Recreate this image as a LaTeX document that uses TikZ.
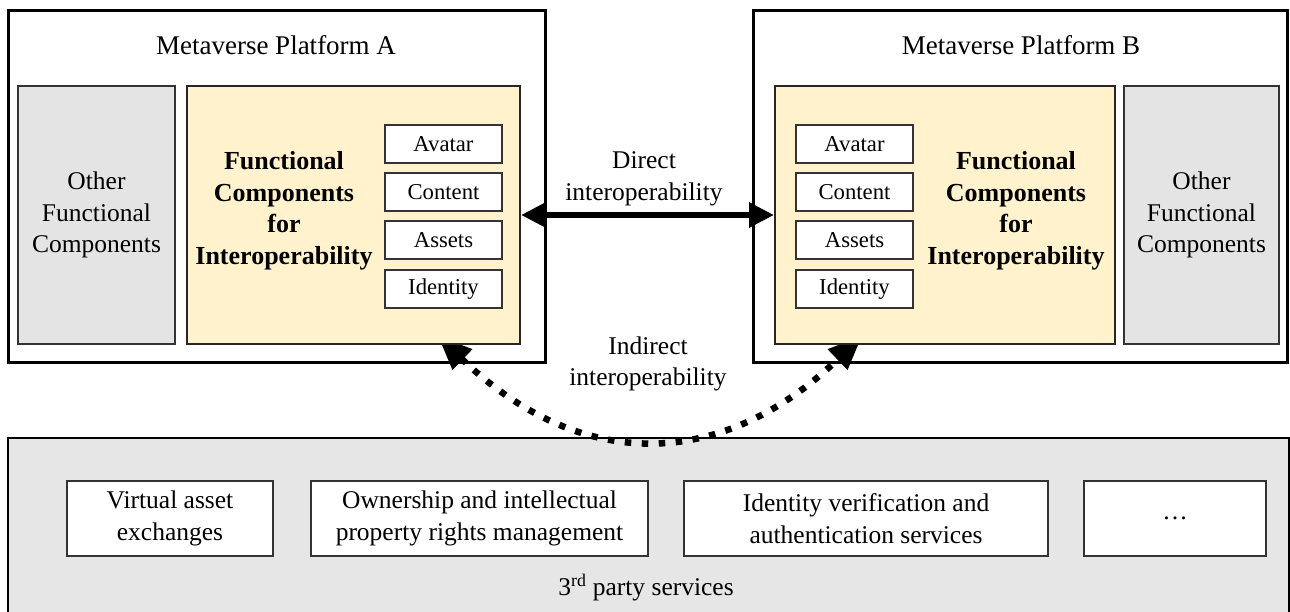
\documentclass[tikz,border=0pt]{standalone}
\usepackage{fontspec}
\setmainfont{Liberation Serif}
\usetikzlibrary{arrows.meta}
\definecolor{ylw}{HTML}{FFF2CC}
\definecolor{gbox}{HTML}{E4E4E4}
\definecolor{gbot}{HTML}{E6E6E6}
\definecolor{edge}{HTML}{333333}
\begin{document}
\begin{tikzpicture}[x=1pt,y=-1pt,
  txt/.style={font=\fontsize{25.5}{31.5}\selectfont, align=center, inner sep=0pt},
  ttl/.style={font=\fontsize{27}{32}\selectfont, inner sep=0pt},
  bld/.style={font=\fontsize{26}{31.5}\selectfont\bfseries, align=center, inner sep=0pt},
  sml/.style={font=\fontsize{22.7}{27}\selectfont, inner sep=0pt},
  platform/.style={draw=black, line width=3pt, fill=white, inner sep=0pt},
  otherbox/.style={draw=edge, line width=1.5pt, fill=gbox, inner sep=0pt, txt},
  fcbox/.style={draw=black!85, line width=2pt, fill=ylw, inner sep=0pt},
  itembox/.style={draw=edge, line width=1.5pt, fill=white, inner sep=0pt, minimum width=117pt, minimum height=38pt, sml},
  svcbox/.style={draw=edge, line width=2pt, fill=white, inner sep=0pt, minimum height=75pt, txt},
  direct/.style={line width=6pt, {Triangle[length=25pt,width=24pt]}-{Triangle[length=25pt,width=24pt]}},
  indirect/.style={line width=6.5pt, dash pattern=on 6.5pt off 10.5pt, {Triangle[length=34pt,width=27pt]}-{Triangle[length=34pt,width=27pt]}}
]
\useasboundingbox (0,0) rectangle (1290,612);
% bottom 3rd party area
\node[draw=black, line width=1.5pt, fill=gbot, minimum width=1281pt, minimum height=178pt, inner sep=0pt] (bottom) at (648.5,527) {};
\node[svcbox, minimum width=206pt] (s1) at (170,518.5) {Virtual asset\\exchanges};
\node[svcbox, minimum width=337pt] (s2) at (479.5,518.5) {Ownership and intellectual\\property rights management};
\node[svcbox, minimum width=364pt] (s3) at (866,518.5) {Identity verification and\\authentication services};
\node[svcbox, minimum width=182pt] (s4) at (1175,518.5) {…};
\node[txt] (third) at (646,588) {3\textsuperscript{rd} party services};
% platforms
\node[platform, minimum width=537pt, minimum height=351pt] (pA) at (276.5,186.5) {};
\node[platform, minimum width=534pt, minimum height=351pt] (pB) at (1020,186.5) {};
\node[ttl] (tA) at (276,45) {Metaverse Platform A};
\node[ttl] (tB) at (1021,45) {Metaverse Platform B};
% indirect connector (drawn under the yellow boxes)
\coordinate (ia) at (438,336);
\coordinate (ib) at (862,336);
\draw[indirect] (ia) .. controls (579.3,472) and (720.7,472) .. (ib);
\node[txt] (indtxt) at (648,364) {Indirect\\interoperability};
% other functional components
\node[otherbox, minimum width=157pt, minimum height=258pt] (oA) at (96.5,215) {Other\\Functional\\Components};
\node[otherbox, minimum width=155pt, minimum height=258pt] (oB) at (1201.5,215) {Other\\Functional\\Components};
% functional components for interoperability
\node[fcbox, minimum width=333pt, minimum height=258pt] (fA) at (353.5,215) {};
\node[fcbox, minimum width=340pt, minimum height=258pt] (fB) at (945,215) {};
\node[bld] (fAt) at (284,211) {Functional\\Components\\for\\Interoperability};
\node[bld] (fBt) at (1016,211) {Functional\\Components\\for\\Interoperability};
\node[itembox] (aA) at (443.5,144) {Avatar};
\node[itembox] (cA) at (443.5,192) {Content};
\node[itembox] (sA) at (443.5,240) {Assets};
\node[itembox] (iA) at (443.5,289) {Identity};
\node[itembox] (aB) at (854.5,144) {Avatar};
\node[itembox] (cB) at (854.5,192) {Content};
\node[itembox] (sB) at (854.5,240) {Assets};
\node[itembox] (iB) at (854.5,289) {Identity};
% direct connector
\draw[direct] (fA.east) -- (fB.west);
\node[txt] (dirtxt) at (644,179) {Direct\\interoperability};
\end{tikzpicture}
\end{document}
